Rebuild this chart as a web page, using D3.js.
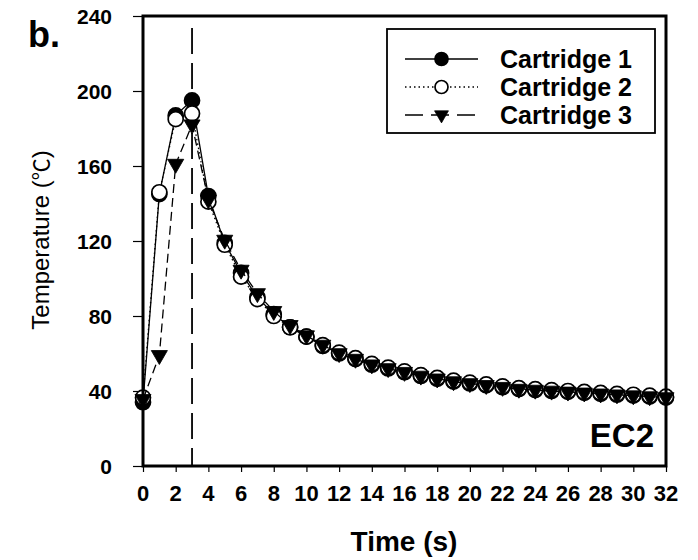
<!DOCTYPE html>
<html>
<head>
<meta charset="utf-8">
<script src="https://cdn.jsdelivr.net/npm/d3@7"></script>
<style>
  html, body { margin: 0; padding: 0; background: #fff; }
  svg { display: block; }
  text { font-family: "Liberation Sans", Arial, sans-serif; fill: #000; }
</style>
</head>
<body>
<svg id="chart" width="698" height="560"></svg>
<script>
// Cartridge surface temperature after ignition (EC2)
const times = d3.range(0, 33);
const cartridge1 = [34, 145, 187, 195, 144, 119, 103, 90, 81, 74, 69, 64, 60, 57, 54, 52, 50, 48, 46.5, 45, 44, 43, 42, 41, 40.5, 40, 39.5, 39, 38.5, 38, 37.5, 37, 36.5];
const cartridge2 = [36.5, 146, 185, 188, 141, 118, 101, 89, 80, 74, 69, 64.5, 60.5, 57.5, 54.5, 52.5, 50.5, 48.5, 47, 45.5, 44.5, 43.5, 42.5, 41.5, 41, 40.5, 40, 39.5, 39, 38.5, 38, 37.5, 37];
const cartridge3 = [35.5, 59, 161, 182, 142, 120.5, 104.5, 92, 82.5, 75, 69.5, 64.5, 60, 57, 54, 52, 50, 48, 46.5, 45, 44, 43, 42, 41, 40.5, 40, 39.5, 39, 38.5, 38, 37.5, 37, 36.5];
const seriesNames = ["Cartridge 1", "Cartridge 2", "Cartridge 3"];
const xTicks = d3.range(0, 33, 2);
const yTicks = [0, 40, 80, 120, 160, 200, 240];
const markerTime = 3;   // end of heating
const panelLabel = "b.";
const panelTag = "EC2";

const svg = d3.select("#chart");
const plot = { left: 143, right: 666, top: 16, bottom: 466 };

const x = d3.scaleLinear().domain([0, 32]).range([plot.left, plot.right]);
const y = d3.scaleLinear().domain([0, 240]).range([plot.bottom, plot.top]);

// Axes: tick marks from d3, labels placed alongside
const xAxis = svg.append("g")
  .attr("transform", `translate(0,${plot.bottom})`)
  .call(d3.axisBottom(x).tickValues(xTicks).tickSize(6).tickFormat(""));
const yAxis = svg.append("g")
  .attr("transform", `translate(${plot.left},0)`)
  .call(d3.axisLeft(y).tickValues(yTicks).tickSize(10).tickFormat(""));
[xAxis, yAxis].forEach(g => {
  g.select(".domain").remove();
  g.selectAll(".tick line").attr("stroke", "#000").attr("stroke-width", 1.2);
});

svg.append("g").selectAll("text").data(xTicks).join("text")
  .attr("x", d => x(d)).attr("y", 501)
  .attr("text-anchor", "middle")
  .style("font-size", "22px").style("font-weight", "bold")
  .text(d => d);

svg.append("g").selectAll("text").data(yTicks).join("text")
  .attr("x", 112).attr("y", d => y(d)).attr("dy", "0.36em")
  .attr("text-anchor", "end")
  .style("font-size", "21px").style("font-weight", "bold")
  .text(d => d);

// Vertical dashed line marking the end of heating
svg.append("line")
  .attr("x1", x(markerTime)).attr("x2", x(markerTime))
  .attr("y1", 28).attr("y2", plot.bottom)
  .attr("stroke", "#000").attr("stroke-width", 1.8)
  .attr("stroke-dasharray", "26,9");

// Series
const styles = [
  { values: cartridge1, dash: null, width: 1.3, symbol: "filled" },
  { values: cartridge2, dash: "1.5,3", width: 1.3, symbol: "open" },
  { values: cartridge3, dash: "9,5", width: 1.3, symbol: "triangle" }
];

const line = d3.line().x(d => x(d[0])).y(d => y(d[1]));
const triPath = "M-7.5,-4.5 L7.5,-4.5 L0,8.5 Z";

function drawSymbol(g, kind, cx, cy, r) {
  if (kind === "triangle") {
    const s = r / 7;
    g.append("path").attr("d", triPath)
      .attr("transform", `translate(${cx},${cy}) scale(${s})`)
      .attr("fill", "#000").attr("stroke", "#000").attr("stroke-width", 0.8);
  } else {
    g.append("circle").attr("cx", cx).attr("cy", cy).attr("r", r)
      .attr("fill", kind === "filled" ? "#000" : "#fff")
      .attr("stroke", "#000").attr("stroke-width", 1.7);
  }
}

styles.forEach(st => {
  const pts = times.map((t, i) => [t, st.values[i]]);
  const g = svg.append("g");
  g.append("path").attr("d", line(pts))
    .attr("fill", "none").attr("stroke", "#000")
    .attr("stroke-width", st.width)
    .attr("stroke-dasharray", st.dash);
  pts.forEach(p => drawSymbol(g, st.symbol, x(p[0]), y(p[1]), 7.5));
});

// Frame
svg.append("rect")
  .attr("x", plot.left).attr("y", plot.top)
  .attr("width", plot.right - plot.left).attr("height", plot.bottom - plot.top)
  .attr("fill", "none").attr("stroke", "#000").attr("stroke-width", 3);

// Legend
const legend = svg.append("g");
legend.append("rect")
  .attr("x", 387).attr("y", 29).attr("width", 268).attr("height", 104)
  .attr("fill", "#fff").attr("stroke", "#000").attr("stroke-width", 1.8);
styles.forEach((st, i) => {
  const ly = 59 + i * 28;
  legend.append("line")
    .attr("x1", 405).attr("x2", 478).attr("y1", ly).attr("y2", ly)
    .attr("stroke", "#000").attr("stroke-width", st.width)
    .attr("stroke-dasharray", st.dash ? (i === 2 ? "18,8" : st.dash) : null);
  drawSymbol(legend, st.symbol, 441.5, ly, 6.5);
  legend.append("text")
    .attr("x", 500).attr("y", ly).attr("dy", "0.36em")
    .style("font-size", "25px").style("font-weight", "bold")
    .text(seriesNames[i]);
});

// Titles and labels
svg.append("text")
  .attr("x", 404).attr("y", 551).attr("text-anchor", "middle")
  .style("font-size", "28px").style("font-weight", "bold")
  .text("Time (s)");

const yLabel = svg.append("text")
  .attr("transform", "translate(49,240) rotate(-90)")
  .attr("text-anchor", "middle")
  .style("font-size", "24px");
yLabel.append("tspan").text("Temperature (");
yLabel.append("tspan").style("font-family", '"Noto Sans CJK SC", sans-serif').style("font-size", "22px").text("℃");
yLabel.append("tspan").text(")");

svg.append("text")
  .attr("x", 28).attr("y", 47)
  .style("font-size", "36px").style("font-weight", "bold")
  .text(panelLabel);

svg.append("text")
  .attr("x", 654).attr("y", 447).attr("text-anchor", "end")
  .style("font-size", "33px").style("font-weight", "bold")
  .text(panelTag);
</script>
</body>
</html>
